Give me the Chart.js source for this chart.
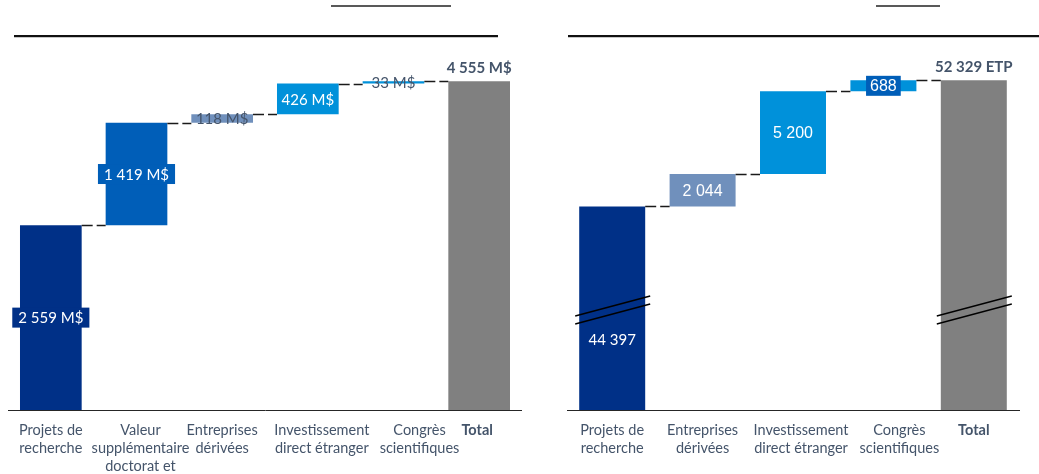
<!DOCTYPE html>
<html>
<head>
<meta charset="utf-8">
<script src="https://cdn.jsdelivr.net/npm/chart.js@4.4.1/dist/chart.umd.min.js"></script>
<style>
  body { margin: 0; background: #fff; width: 1039px; height: 474px; overflow: hidden; position: relative; }
  .box { position: absolute; top: 0; height: 474px; }
  .rule { position: absolute; height: 2px; background: #111; box-shadow: 0 1px 0 #c8c8c8; }
  .tab { position: absolute; height: 2px; background: #595959; }
</style>
</head>
<body>
<div class="tab" style="left:331px;top:5px;width:120px"></div>
<div class="rule" style="left:14px;top:35px;width:484px"></div>
<div class="tab" style="left:876px;top:5px;width:64px"></div>
<div class="rule" style="left:568px;top:35px;width:471px"></div>
<div class="box" style="left:0;width:522px"><canvas id="left"></canvas></div>
<div class="box" style="left:540px;width:499px"><canvas id="right"></canvas></div>
<script>
// left panel: M$
const leftCategories = [
  ["Projets de", "recherche"],
  ["Valeur", "supplémentaire", "doctorat et"],
  ["Entreprises", "dérivées"],
  ["Investissement", "direct étranger"],
  ["Congrès", "scientifiques"],
  "Total"
];
const leftValues = [2559, 1419, 118, 426, 33];
const leftTotal = 4555;

// right panel: ETP
const rightCategories = [
  ["Projets de", "recherche"],
  ["Entreprises", "dérivées"],
  ["Investissement", "direct étranger"],
  ["Congrès", "scientifiques"],
  "Total"
];
const rightValues = [44397, 2044, 5200, 688];
const rightTotal = 52329;

const NAVY = "#003087", BLUE = "#005EB8", GREYBLUE = "#7090BC", SKY = "#0091DA", GREY = "#808080";
const TXT = "#44546A";

const fmt = n => String(n).replace(/\B(?=(\d{3})+(?!\d))/g, " ");

// first bar from the base, then floating steps, then the total from the base
function steps(values, total) {
  const out = [values[0]];
  let run = values[0];
  for (let i = 1; i < values.length; i++) {
    out.push([run, run + values[i]]);
    run += values[i];
  }
  out.push(total);
  return out;
}

// connectors, break marks and value labels (config kept in closure)
function waterfall(cfg) {
  return {
    id: "waterfall",
    beforeDraw(chart) {
      // the source nudges some category labels to the right
      chart.scales.x.getLabelItems().forEach((it, i) => {
        if (it._shifted) return;
        it.options.translation[0] += cfg.tickShift[i] || 0;
        it._shifted = true;
      });
    },
    afterDatasetsDraw(chart) {
      const ctx = chart.ctx;
      const bars = chart.getDatasetMeta(0).data;
      const raw = chart.data.datasets[0].data;
      const y = chart.scales.y;
      const bottom = chart.chartArea.bottom;
      ctx.save();

      ctx.strokeStyle = "#1a1a1a";
      ctx.lineWidth = 1.4;
      ctx.setLineDash([11, 4]);
      for (let i = 0; i < bars.length - 1; i++) {
        const a = bars[i], b = bars[i + 1];
        const end = Array.isArray(raw[i]) ? raw[i][1] : raw[i];
        const py = Math.round(y.getPixelForValue(end)) + 0.5;
        ctx.beginPath();
        ctx.moveTo(a.x + a.width / 2, py);
        ctx.lineTo(b.x - b.width / 2, py);
        ctx.stroke();
      }
      ctx.setLineDash([]);

      (cfg.breaks || []).forEach(i => {
        const b = bars[i];
        const x0 = b.x - b.width / 2 - 4, x1 = b.x + b.width / 2 + 5;
        ctx.strokeStyle = "#000";
        ctx.lineWidth = 1.3;
        [104, 96].forEach(up => {
          ctx.beginPath();
          ctx.moveTo(x0, bottom - up + 10);
          ctx.lineTo(x1, bottom - up - 10);
          ctx.stroke();
        });
      });

      cfg.labels.forEach((text, i) => {
        const st = cfg.styles[i];
        const b = bars[i];
        const top = Math.min(b.y, b.base);
        const bot = Math.min(Math.max(b.y, b.base), bottom);
        ctx.font = st.font;
        const frac = st.at === undefined ? 0.5 : st.at;
        const py = st.above ? top - 14 : bot - (bot - top) * frac;
        if (st.box) {
          const w = ctx.measureText(text).width + 2 * st.pad;
          ctx.fillStyle = st.box;
          ctx.fillRect(b.x - w / 2, py - 10, w, 20);
        }
        ctx.fillStyle = st.color;
        ctx.textAlign = "center";
        ctx.textBaseline = "middle";
        ctx.fillText(text, b.x, py + 1);
      });
      ctx.restore();
    }
  };
}

function makeChart(id, categories, data, colors, cfg) {
  return new Chart(document.getElementById(id), {
    type: "bar",
    data: {
      labels: categories,
      datasets: [{
        data,
        backgroundColor: colors,
        borderWidth: 0,
        barPercentage: cfg.barPct,
        categoryPercentage: 1
      }]
    },
    options: {
      responsive: true,
      maintainAspectRatio: false,
      animation: false,
      layout: { padding: { left: cfg.padLeft, right: cfg.padRight, top: 49, bottom: 0 } },
      plugins: { legend: { display: false }, tooltip: { enabled: false } },
      scales: {
        x: {
          grid: { display: false },
          border: { display: true, color: "#262626", width: 1 },
          ticks: {
            color: TXT,
            padding: 3,
            autoSkip: false,
            maxRotation: 0,
            font: c => ({
              family: "Lato",
              size: 14.5,
              lineHeight: "18px",
              weight: c.index === categories.length - 1 ? "bold" : "normal"
            })
          },
          afterFit: s => { s.height = 64; }
        },
        y: { display: false, min: cfg.min, max: cfg.max }
      }
    },
    plugins: [waterfall(cfg)]
  });
}

const lato = "15px Lato", latoBold = "bold 15px Lato", arial = "16px 'Liberation Sans'";

makeChart("left", leftCategories, steps(leftValues, leftTotal),
  [NAVY, BLUE, GREYBLUE, SKY, SKY, GREY], {
    barPct: 0.72, padLeft: 8, padRight: 0, min: 0, max: 5000,
    tickShift: [0, 4, 0, 14, 26, -2],
    labels: [...leftValues, leftTotal].map(v => fmt(v) + " M$"),
    styles: [
      { font: lato, color: "#fff", box: NAVY, pad: 6 },
      { font: lato, color: "#fff", box: BLUE, pad: 6 },
      { font: lato, color: TXT },
      { font: lato, color: "#fff" },
      { font: lato, color: TXT },
      { font: latoBold, color: TXT, above: true }
    ]
  });

makeChart("right", rightCategories, steps(rightValues, rightTotal),
  [NAVY, GREYBLUE, SKY, SKY, GREY], {
    barPct: 0.73, padLeft: 27, padRight: 20, min: 31600, max: 54300,
    tickShift: [0, 0, 8, 16, 0],
    breaks: [0, 4],
    labels: [...rightValues.map(fmt), fmt(rightTotal) + " ETP"],
    styles: [
      { font: lato, color: "#fff", at: 0.35 },
      { font: arial, color: "#fff" },
      { font: arial, color: "#fff" },
      { font: arial, color: "#fff", box: BLUE, pad: 4 },
      { font: latoBold, color: TXT, above: true }
    ]
  });
</script>
</body>
</html>
